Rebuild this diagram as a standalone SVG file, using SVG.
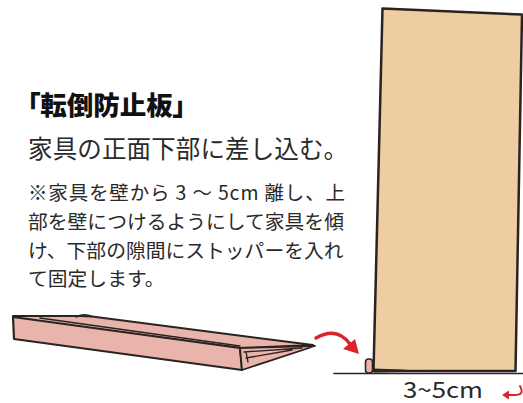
<svg xmlns="http://www.w3.org/2000/svg" width="523" height="403" viewBox="0 0 523 403">
  <style>
    .jp { font-family: "Noto Sans CJK JP", "Noto Sans", sans-serif; fill: #2a2a2a; }
    .title { font-weight: 900; fill: #111; font-feature-settings: "palt"; }
    .ink { stroke: #2b2320; stroke-linejoin: round; stroke-linecap: round; }
    .pink { fill: #E8B4AC; }
    .wood { fill: #EFCDA3; }
    .red { stroke: #D8242A; fill: none; stroke-linecap: round; }
    .redfill { fill: #D8242A; }
  </style>

  <!-- heading and explanation -->
  <g id="caption">
    <text class="jp title" x="27" y="115" font-size="26.5">「転倒防止板」</text>
    <text class="jp" x="28" y="158" font-size="24.5" textLength="320" lengthAdjust="spacing">家具の正面下部に差し込む。</text>
    <text class="jp" x="28" y="200" font-size="19.5" textLength="317" lengthAdjust="spacing">※家具を壁から 3 ～ 5cm 離し、上</text>
    <text class="jp" x="28" y="229" font-size="19.8">部を壁につけるようにして家具を傾</text>
    <text class="jp" x="28" y="258" font-size="19.8">け、下部の隙間にストッパーを入れ</text>
    <text class="jp" x="28" y="286" font-size="19.8">て固定します。</text>
  </g>

  <!-- the wedge-shaped stopper plate -->
  <g id="plate">
    <!-- top strip between back rim and front edge -->
    <path class="ink pink" stroke-width="2" d="M13,316 L80,316 L92,316.5 L313,345 L240,348 L13,318 Z"/>
    <!-- raised rim at the back -->
    <path class="ink" fill="none" stroke-width="1.5" d="M76,317 Q84,313 92,316.5 M40,318 L240,346"/>
    <!-- front face -->
    <path class="ink pink" stroke-width="2.2" d="M13,317 L240,348 L242,370 L14,339 Z"/>
    <!-- pointed end -->
    <path class="ink pink" stroke-width="1.8" d="M240,348 L315,346 L242,370 Z"/>
    <path class="ink" fill="none" stroke-width="1.3" d="M244,352 L302,348 M246,358 L292,350 M246,352 L248,362"/>
  </g>

  <!-- furniture leaning against the wall -->
  <g id="furniture">
    <path class="ink wood" stroke-width="2.5" d="M382.5,8.5 L522,14.5 L515.5,371 L373.5,371 Z"/>
    <!-- shadow of the gap under the front -->
    <path fill="#2b2320" d="M374,368.5 Q400,369 430,371.5 L374,372.5 Z"/>
    <!-- small stopper under the front edge -->
    <rect class="ink pink" stroke-width="1.6" x="365.5" y="359" width="7" height="14" rx="3"/>
    <!-- floor -->
    <line class="ink" stroke-width="1.6" x1="334" y1="373.5" x2="523" y2="373.5"/>
    <text class="jp" x="403" y="398" font-size="22" fill="#222" textLength="80" lengthAdjust="spacingAndGlyphs">3~5cm</text>
  </g>

  <!-- arrows -->
  <g id="connectors">
    <path class="red" stroke-width="3.5" d="M316,338 Q337,326 350,344"/>
    <polygon class="redfill" points="359,354 343,349 355,339"/>
    <path class="red" stroke-width="2" d="M520,386 Q525,395 515,395 L507,395"/>
    <polygon class="redfill" points="502,395 509,390.5 509,399.5"/>
  </g>
</svg>
